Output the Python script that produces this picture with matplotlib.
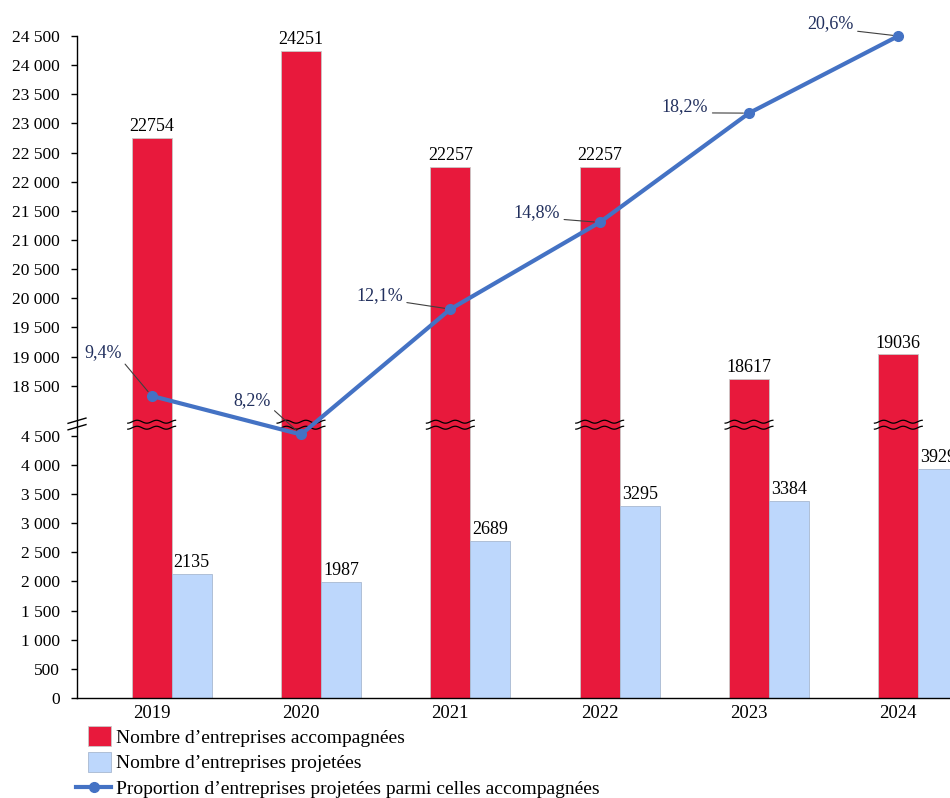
import numpy as np
import matplotlib
matplotlib.use("Agg")
import matplotlib.pyplot as plt
from matplotlib.patches import Patch, Rectangle
from matplotlib.lines import Line2D
from matplotlib.legend_handler import HandlerPatch
from matplotlib.ticker import FixedLocator, FuncFormatter, NullLocator

plt.rcParams["font.family"] = ["Liberation Serif", "DejaVu Serif"]

years = ["2019", "2020", "2021", "2022", "2023", "2024"]
accompagnees = [22754, 24251, 22257, 22257, 18617, 19036]
projetees = [2135, 1987, 2689, 3295, 3384, 3929]
proportion = [9.4, 8.2, 12.1, 14.8, 18.2, 20.6]

legend_labels = [
    "Nombre d\u2019entreprises accompagnées",
    "Nombre d\u2019entreprises projetées",
    "Proportion d\u2019entreprises projetées parmi celles accompagnées",
]

# where each percentage label sits relative to its point (pixels)
pct_offsets = [(-49, 43), (-49, 34), (-71, 14), (-63, 10), (-64, 7), (-68, 12)]

RED = "#E8193C"
BLUE = "#BDD7FC"
LINE = "#4472C4"
NAVY = "#22305E"

# broken axis: 4500..18500 squeezed into a small gap
LOW_TOP = 4500.0
HIGH_BOTTOM = 18500.0
GAP = 858.0


def forward(v):
    v = np.asarray(v, dtype=float)
    mid = LOW_TOP + (v - LOW_TOP) * GAP / (HIGH_BOTTOM - LOW_TOP)
    high = v - HIGH_BOTTOM + LOW_TOP + GAP
    return np.where(v <= LOW_TOP, v, np.where(v >= HIGH_BOTTOM, high, mid))


def inverse(t):
    t = np.asarray(t, dtype=float)
    mid = LOW_TOP + (t - LOW_TOP) * (HIGH_BOTTOM - LOW_TOP) / GAP
    high = t - LOW_TOP - GAP + HIGH_BOTTOM
    return np.where(t <= LOW_TOP, t, np.where(t >= LOW_TOP + GAP, high, mid))


fig = plt.figure(figsize=(9.5, 7.98), dpi=100)
ax = fig.add_axes([77 / 950, 100 / 798, 896 / 950, 662 / 798])
ax.set_yscale("function", functions=(forward, inverse))

x = np.arange(len(years))
w = 0.268
b1 = ax.bar(x, accompagnees, width=w, color=RED, edgecolor="#C8C8C8", linewidth=0.6, zorder=2)
b2 = ax.bar(x + w, projetees, width=w, color=BLUE, edgecolor="#A8B8D0", linewidth=0.6, zorder=2)
ax.bar_label(b1, padding=2, fontsize=13)
ax.bar_label(b2, padding=2, fontsize=13)

ax.set_xlim(-0.5, len(years) - 0.5)
ax.set_ylim(0, 24500)
yticks = list(range(0, 4501, 500)) + list(range(18500, 24501, 500))
ax.yaxis.set_major_locator(FixedLocator(yticks))
ax.yaxis.set_minor_locator(NullLocator())
ax.yaxis.set_major_formatter(FuncFormatter(lambda v, _: f"{int(round(v)):,}".replace(",", " ")))
ax.set_xticks(x)
ax.set_xticklabels(years)
ax.tick_params(axis="x", length=0, pad=5, labelsize=13.5)
ax.tick_params(axis="y", length=4.3, width=1, pad=8, labelsize=12.5)
for s in ["top", "right"]:
    ax.spines[s].set_visible(False)
ax.spines["left"].set_linewidth(1)
ax.spines["bottom"].set_linewidth(1)

# wavy break marks across the red bars
for xi in x:
    xs = np.linspace(xi - 0.16, xi + 0.16, 120)
    for frac in (0.16, 0.28):
        t = LOW_TOP + frac * GAP + 25 * np.sin(2 * np.pi * (xs - xi) / 0.13)
        ax.plot(xs, inverse(t), color="black", lw=0.9, zorder=5)

# break marks on the y axis
for frac in (0.17, 0.30):
    t0 = LOW_TOP + frac * GAP
    ax.plot([-0.56, -0.44], inverse([t0 - 45, t0 + 45]), color="black", lw=1,
            clip_on=False, zorder=5)

ax2 = ax.twinx()
ax2.set_ylim(0, 20.6)
ax2.axis("off")
ax2.plot(x, proportion, color=LINE, lw=3, marker="o", ms=7, clip_on=False, zorder=4)
for xi, p, off in zip(x, proportion, pct_offsets):
    ax2.annotate(f"{p:.1f}%".replace(".", ","), xy=(xi, p), xytext=off,
                 textcoords="offset pixels", ha="center", va="center",
                 color=NAVY, fontsize=13, annotation_clip=False,
                 arrowprops=dict(arrowstyle="-", color="#404040", lw=0.8,
                                 shrinkA=1, shrinkB=4, relpos=(1, 0.1)))


def small_square(legend, orig_handle, xdescent, ydescent, width, height, fontsize):
    rw, rh = 16.5, 14.4
    return Rectangle((-xdescent + width - rw, -ydescent + height / 2 - rh / 2), rw, rh)


handles = [
    Patch(facecolor=RED, edgecolor="#C8C8C8", linewidth=0.6),
    Patch(facecolor=BLUE, edgecolor="#A8B8D0", linewidth=0.6),
    Line2D([], [], color=LINE, lw=3, marker="o", ms=7),
]
fig.legend(handles, legend_labels, loc="upper left", bbox_to_anchor=(76 / 950, 1 - 729 / 798),
           frameon=False, fontsize=14, borderpad=0, borderaxespad=0, handlelength=1.8,
           handletextpad=0.25, labelspacing=0.42,
           handler_map={Patch: HandlerPatch(patch_func=small_square)})

fig.savefig("out.png", dpi=100)
